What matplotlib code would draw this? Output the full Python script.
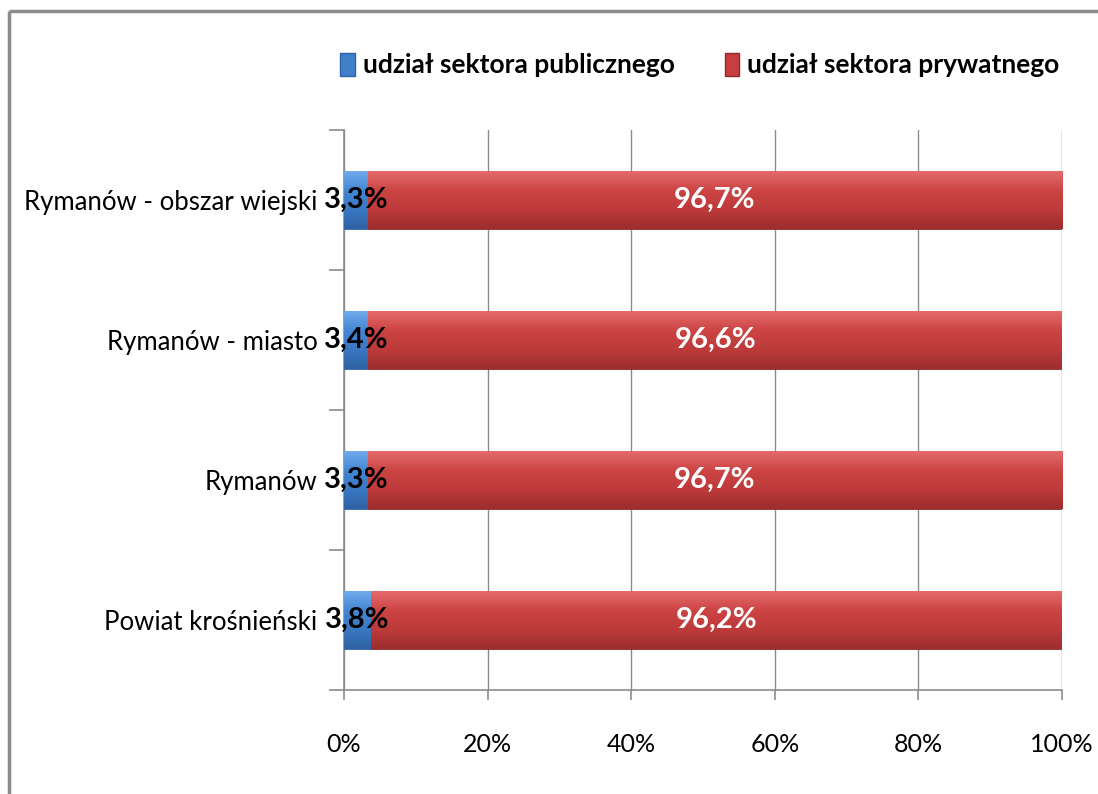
import matplotlib
matplotlib.use("Agg")
import matplotlib.pyplot as plt
from matplotlib.lines import Line2D
from matplotlib.patches import Patch
from matplotlib.colors import LinearSegmentedColormap
import numpy as np

plt.rcParams['font.family'] = ['Lato', 'DejaVu Sans']

categories = ["Powiat krośnieński", "Rymanów", "Rymanów - miasto", "Rymanów - obszar wiejski"]
public = [3.8, 3.3, 3.4, 3.3]
private = [96.2, 96.7, 96.6, 96.7]
series_names = ["udział sektora publicznego", "udział sektora prywatnego"]
xticks = [0, 20, 40, 60, 80, 100]

blue = "#3f7fc9"
red = "#c83d3d"
blue_cmap = LinearSegmentedColormap.from_list("b", ["#2f62a3", "#3a78c2", "#4486d2", "#6fa9ea"])
red_cmap = LinearSegmentedColormap.from_list("r", ["#9e2d2d", "#bd3a3a", "#cc4444", "#e46a6a"])

fig = plt.figure(figsize=(10.98, 7.94), dpi=100)
# outer frame (top and left edges visible)
fig.add_artist(Line2D([9/1098, 9/1098], [-0.01, 1 - 11/794], transform=fig.transFigure,
                      color="#8c8c8c", linewidth=2.5, solid_capstyle="butt"))
fig.add_artist(Line2D([9/1098, 1.02], [1 - 11/794, 1 - 11/794], transform=fig.transFigure,
                      color="#8c8c8c", linewidth=2.5, solid_capstyle="butt"))

ax = fig.add_axes([344/1098, 104/794, 718/1098, 560/794])
y = np.arange(len(categories))
h = 0.414
b1 = ax.barh(y, public, height=h, color=blue, edgecolor="#2e65a8", linewidth=0.6,
             label=series_names[0], zorder=3)
b2 = ax.barh(y, private, left=public, height=h, color=red, edgecolor="#8e2a2a", linewidth=0.6,
             label=series_names[1], zorder=3)

grad = np.linspace(0, 1, 64).reshape(-1, 1)
for bars, cmap in ((b1, blue_cmap), (b2, red_cmap)):
    for p in bars:
        x0, y0 = p.get_x(), p.get_y()
        w, hh = p.get_width(), p.get_height()
        im = ax.imshow(grad, cmap=cmap, aspect="auto", origin="lower",
                       extent=(x0, x0 + w, y0, y0 + hh), zorder=3.5)
        im.set_clip_path(p)

for yi, p, q in zip(y, public, private):
    ax.text(p/2, yi, f"{p:.1f}%".replace(".", ","), ha="center", va="center",
            fontsize=21, fontweight="bold", color="black", zorder=5)
    ax.text(p + q/2, yi, f"{q:.1f}%".replace(".", ","), ha="center", va="center",
            fontsize=21, fontweight="bold", color="white", zorder=5)

ax.set_xlim(0, 100)
ax.set_ylim(-0.5, len(categories) - 0.5)
ax.set_xticks(xticks)
ax.set_xticklabels([f"{v}%" for v in xticks], fontsize=18)
ax.set_yticks(y)
ax.set_yticklabels(categories, fontsize=18.5)
ax.set_yticks(np.arange(-0.5, len(categories), 1), minor=True)
ax.tick_params(axis="y", which="major", length=0, pad=19)
ax.tick_params(axis="y", which="minor", length=11, color="#8c8c8c", width=1.2)
ax.tick_params(axis="x", which="major", length=7, color="#8c8c8c", width=1.2, pad=24)
ax.grid(axis="x", color="#8c8c8c", linewidth=1.0, zorder=0)
ax.set_axisbelow(True)
for s in ["top", "right"]:
    ax.spines[s].set_visible(False)
for s in ["left", "bottom"]:
    ax.spines[s].set_color("#8c8c8c")
    ax.spines[s].set_linewidth(1.2)

handles = [Patch(facecolor=blue, edgecolor="#2e65a8"), Patch(facecolor=red, edgecolor="#8e2a2a")]
fig.legend(handles=handles, labels=series_names, loc="center",
           bbox_to_anchor=(700/1098, 1 - 65/794),
           ncol=2, frameon=False, handlelength=0.55, handleheight=0.95,
           handletextpad=0.3, columnspacing=1.9,
           prop={"size": 19, "weight": "bold"})

fig.savefig("out.png", dpi=100)
